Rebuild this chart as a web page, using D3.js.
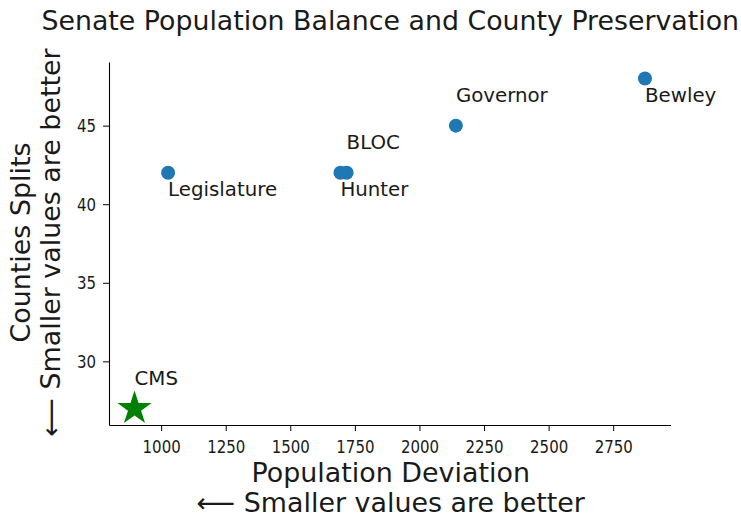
<!DOCTYPE html>
<html>
<head>
<meta charset="utf-8">
<script src="https://cdn.jsdelivr.net/npm/d3@7"></script>
<style>
  html, body { margin: 0; padding: 0; background: #fff; }
  svg { display: block; }
  text { font-family: "DejaVu Sans", sans-serif; fill: #1a1a1a; }
</style>
</head>
<body>
<svg id="chart" width="741" height="518"></svg>
<script>
// Senate plans: population deviation vs. number of county splits
const planNames = ["Legislature", "BLOC", "Hunter", "Governor", "Bewley"];
const popDeviation = [1027, 1718, 1694, 2141, 2873];
const countySplits = [42, 42, 42, 45, 48];
const labelSide = ["below", "above", "below", "above", "below"];

// Highlighted plan
const cmsName = ["CMS"];
const cmsDeviation = [897];
const cmsSplits = [27];

const xTicks = [1000, 1250, 1500, 1750, 2000, 2250, 2500, 2750];
const yTicks = [30, 35, 40, 45];

const titleText = "Senate Population Balance and County Preservation";
const xLabelLines = ["Population Deviation", "\u27F5 Smaller values are better"];
const yLabelLines = ["Counties Splits", "\u27F5 Smaller values are better"];

const svg = d3.select("#chart");
const plot = { left: 109, right: 670.5, top: 62, bottom: 425 };

// Domains padded by 5% on each side
function padded(vals) {
  const [lo, hi] = d3.extent(vals);
  const p = (hi - lo) * 0.05;
  return [lo - p, hi + p];
}
const allX = popDeviation.concat(cmsDeviation);
const allY = countySplits.concat(cmsSplits);

const x = d3.scaleLinear().domain(padded(allX)).range([plot.left, plot.right]);
const y = d3.scaleLinear().domain(padded(allY)).range([plot.bottom, plot.top]);

const tickScaleX = 0.81;

// Axes (left and bottom spines only)
const xAxis = svg.append("g")
  .attr("transform", `translate(0,${plot.bottom})`)
  .call(d3.axisBottom(x).tickValues(xTicks).tickFormat(d3.format("d")).tickSize(6).tickPadding(9).tickSizeOuter(0));
const yAxis = svg.append("g")
  .attr("transform", `translate(${plot.left},0)`)
  .call(d3.axisLeft(y).tickValues(yTicks).tickFormat(d3.format("d")).tickSize(6).tickPadding(7).tickSizeOuter(0));

[xAxis, yAxis].forEach(g => {
  g.select(".domain").attr("stroke", "#000").attr("stroke-width", 1.1);
  g.selectAll(".tick line").attr("stroke", "#000").attr("stroke-width", 1);
  g.selectAll(".tick text")
    .attr("font-family", "DejaVu Sans, sans-serif")
    .attr("font-size", 18.5)
    .attr("fill", "#1a1a1a");
});
xAxis.selectAll(".tick text").attr("transform", `scale(${tickScaleX},1)`);
yAxis.selectAll(".tick text").each(function () {
  const t = d3.select(this);
  t.attr("x", +t.attr("x") / tickScaleX).attr("transform", `scale(${tickScaleX},1)`);
});

// Plan markers
svg.append("g").selectAll("circle")
  .data(planNames.map((n, i) => ({ n, x: popDeviation[i], y: countySplits[i], side: labelSide[i] })))
  .join("circle")
  .attr("cx", d => x(d.x))
  .attr("cy", d => y(d.y))
  .attr("r", 7)
  .attr("fill", "#1f77b4");

// Highlighted plan as a green star
const starR = 18;
svg.append("g").selectAll("path")
  .data(cmsName.map((n, i) => ({ n, x: cmsDeviation[i], y: cmsSplits[i] })))
  .join("path")
  .attr("d", d3.symbol(d3.symbolStar, (starR * starR) / 0.8908130915292852)())
  .attr("transform", d => `translate(${x(d.x)},${y(d.y)})`)
  .attr("fill", "green");

// Annotations placed 1.5 splits above or below each marker
const labelOffset = 1.5;
const labels = planNames.map((n, i) => ({ n, x: popDeviation[i], y: countySplits[i], side: labelSide[i] }))
  .concat(cmsName.map((n, i) => ({ n, x: cmsDeviation[i], y: cmsSplits[i], side: "above" })));
svg.append("g").selectAll("text")
  .data(labels)
  .join("text")
  .attr("x", d => x(d.x))
  .attr("y", d => y(d.side === "above" ? d.y + labelOffset : d.y - labelOffset))
  .attr("font-size", 19.8)
  .text(d => d.n);

// Title
svg.append("text")
  .attr("x", (plot.left + plot.right) / 2 + 0.5)
  .attr("y", 30)
  .attr("text-anchor", "middle")
  .attr("font-size", 26.8)
  .text(titleText);

// X axis label (two lines)
svg.append("g").selectAll("text")
  .data(xLabelLines)
  .join("text")
  .attr("x", (plot.left + plot.right) / 2 + 1)
  .attr("y", (d, i) => 482 + i * 29.5)
  .attr("text-anchor", "middle")
  .attr("font-size", 26.9)
  .text(d => d);

// Y axis label (two lines, rotated)
const yMid = (plot.top + plot.bottom) / 2;
svg.append("g").selectAll("text")
  .data(yLabelLines)
  .join("text")
  .attr("transform", (d, i) => `translate(${30 + i * 29.5},${yMid - 1}) rotate(-90)`)
  .attr("text-anchor", "middle")
  .attr("font-size", 26.9)
  .text(d => d);
</script>
</body>
</html>
